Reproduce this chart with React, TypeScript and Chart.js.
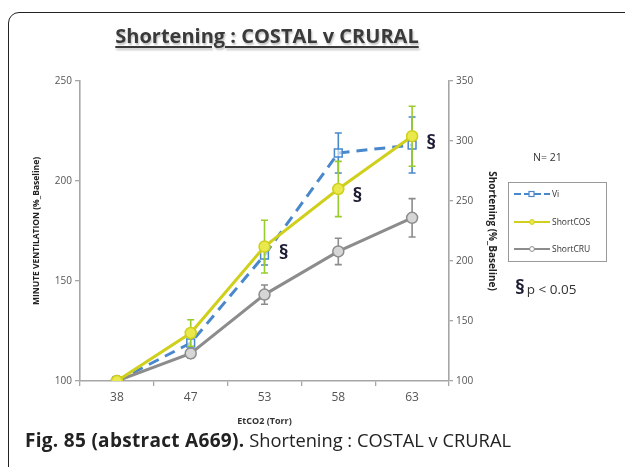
import React, { useEffect, useRef } from 'react';
import { Chart, registerables } from 'chart.js';

Chart.register(...registerables);

// ---- data ----
const categories = ['38', '47', '53', '58', '63'];
const viValues = [100, 119, 163, 214, 218];
const viErrors = [0, 4, 5, 10, 14];
const cosValues = [100, 140, 212, 260, 304];
const cosErrors = [0, 11, 22, 23, 25];
const cruValues = [100, 123, 172, 208, 236];
const cruErrors = [0, 4, 8, 11, 16];
const leftRange = [100, 250];
const rightRange = [100, 350];
const tickStep = 50;
const sigIndices = [2, 3, 4];

const BLUE = '#4a88cc';
const YELLOW = '#cfcf1c';
const YELLOW_FILL = '#e9e94c';
const GREEN = '#98cc2c';
const GRAY = '#8c8c8c';
const GRAY_FILL = '#d6d6d6';
const AXIS = '#a6a6a6';
const FONT = '"Open Sans", "DejaVu Sans", sans-serif';

const errorBarPlugin = {
  id: 'errorBars',
  beforeDatasetDraw(chart: any, args: any) {
    const ds = chart.data.datasets[args.index];
    const errs: number[] = ds.errors;
    if (!errs) return;
    const meta = args.meta;
    const yScale = chart.scales[meta.yAxisID];
    const ctx = chart.ctx;
    ctx.save();
    ctx.strokeStyle = ds.errorColor;
    ctx.lineWidth = 1.6;
    meta.data.forEach((pt: any, i: number) => {
      const e = errs[i];
      if (!e) return;
      const v = ds.data[i];
      const yTop = yScale.getPixelForValue(v + e);
      const yBot = yScale.getPixelForValue(v - e);
      const x = pt.x;
      ctx.beginPath();
      ctx.moveTo(x, yTop);
      ctx.lineTo(x, yBot);
      ctx.moveTo(x - 3.5, yTop);
      ctx.lineTo(x + 3.5, yTop);
      ctx.moveTo(x - 3.5, yBot);
      ctx.lineTo(x + 3.5, yBot);
      ctx.stroke();
    });
    ctx.restore();
  },
};

const sigPlugin = {
  id: 'sigMarks',
  afterDatasetsDraw(chart: any) {
    const idx = chart.data.datasets.findIndex((d: any) => d.label === 'ShortCOS');
    if (idx < 0) return;
    const meta = chart.getDatasetMeta(idx);
    const ctx = chart.ctx;
    ctx.save();
    ctx.fillStyle = '#1c1c34';
    ctx.font = `bold 20px ${FONT}`;
    ctx.textAlign = 'center';
    ctx.textBaseline = 'middle';
    sigIndices.forEach((i) => {
      const pt = meta.data[i];
      if (!pt) return;
      ctx.fillText('§', pt.x + 19, pt.y + 7);
    });
    ctx.restore();
  },
};

function LegendSample({ color, dashed, marker }: { color: string; dashed?: boolean; marker: 'square' | 'circleY' | 'circleG' }) {
  return (
    <svg width={38} height={8} style={{ display: 'block' }}>
      <line x1={1} y1={4} x2={37} y2={4} stroke={color} strokeWidth={2.2} strokeDasharray={dashed ? '7 3' : undefined} />
      {marker === 'square' && <rect x={16} y={1.5} width={5} height={5} fill="#fff" stroke={color} strokeWidth={1.2} />}
      {marker === 'circleY' && <circle cx={19} cy={4} r={2.4} fill={YELLOW_FILL} stroke={YELLOW} strokeWidth={1} />}
      {marker === 'circleG' && <circle cx={19} cy={4} r={2.4} fill="#fff" stroke={GRAY} strokeWidth={1} />}
    </svg>
  );
}

export default function App() {
  const canvasRef = useRef<HTMLCanvasElement | null>(null);

  useEffect(() => {
    if (!canvasRef.current) return;
    const chart = new Chart(canvasRef.current, {
      type: 'line',
      data: {
        labels: categories,
        datasets: [
          {
            label: 'Vi',
            data: viValues,
            yAxisID: 'y',
            borderColor: BLUE,
            borderWidth: 3,
            borderDash: [11, 7],
            pointStyle: 'rect',
            pointRadius: 5.5,
            pointBackgroundColor: 'rgba(255,255,255,0.6)',
            pointBorderColor: BLUE,
            pointBorderWidth: 1.5,
            order: 3,
            errors: viErrors,
            errorColor: BLUE,
          } as any,
          {
            label: 'ShortCOS',
            data: cosValues,
            yAxisID: 'y1',
            borderColor: YELLOW,
            borderWidth: 3,
            pointStyle: 'circle',
            pointRadius: 5.5,
            pointBackgroundColor: YELLOW_FILL,
            pointBorderColor: YELLOW,
            pointBorderWidth: 1.5,
            order: 1,
            errors: cosErrors,
            errorColor: GREEN,
          } as any,
          {
            label: 'ShortCRU',
            data: cruValues,
            yAxisID: 'y1',
            borderColor: GRAY,
            borderWidth: 3,
            pointStyle: 'circle',
            pointRadius: 5.5,
            pointBackgroundColor: GRAY_FILL,
            pointBorderColor: GRAY,
            pointBorderWidth: 1.5,
            order: 2,
            errors: cruErrors,
            errorColor: GRAY,
          } as any,
        ],
      },
      options: {
        animation: false,
        responsive: false,
        devicePixelRatio: 1,
        layout: { padding: { left: 31.6, right: 127, top: 81, bottom: 40.6 } },
        plugins: {
          legend: { display: false },
          tooltip: { enabled: false },
          title: { display: false },
        },
        scales: {
          x: {
            type: 'category',
            offset: true,
            grid: {
              display: true,
              offset: true,
              drawOnChartArea: false,
              drawTicks: true,
              tickLength: 5,
              color: AXIS,
              lineWidth: 1.3,
            },
            border: { display: true, color: AXIS, width: 1.6 },
            ticks: { color: '#555', font: { family: FONT, size: 12 }, padding: 4, maxRotation: 0 },
            title: {
              display: true,
              text: 'EtCO2 (Torr)',
              color: '#333',
              font: { family: FONT, size: 9, weight: 'bold' },
              padding: { top: 0, bottom: 0 },
            },
            afterFit: (s: any) => {
              s.height = 45.4;
            },
          },
          y: {
            type: 'linear',
            position: 'left',
            min: leftRange[0],
            max: leftRange[1],
            ticks: { stepSize: tickStep, color: '#555', font: { family: FONT, size: 10 }, padding: 3 },
            grid: {
              display: true,
              drawOnChartArea: false,
              drawTicks: true,
              tickLength: 5,
              color: AXIS,
              lineWidth: 1.3,
            },
            border: { display: true, color: AXIS, width: 1.6 },
            title: {
              display: true,
              text: 'MINUTE VENTILATION (%_Baseline)',
              color: '#222',
              font: { family: FONT, size: 8.5, weight: 'bold' },
              padding: { top: 0, bottom: 0 },
            },
            afterFit: (s: any) => {
              s.width = 48.4;
            },
          },
          y1: {
            type: 'linear',
            position: 'right',
            min: rightRange[0],
            max: rightRange[1],
            ticks: { stepSize: tickStep, color: '#555', font: { family: FONT, size: 10 }, padding: 3 },
            grid: {
              display: true,
              drawOnChartArea: false,
              drawTicks: true,
              tickLength: 4,
              color: AXIS,
              lineWidth: 1.3,
            },
            border: { display: true, color: AXIS, width: 1.6 },
            title: {
              display: true,
              text: 'Shortening (%_Baseline)',
              color: '#222',
              font: { family: FONT, size: 10, weight: 'bold' },
              padding: { top: 0, bottom: 0 },
            },
            afterFit: (s: any) => {
              s.width = 49;
            },
          },
        },
      } as any,
      plugins: [errorBarPlugin, sigPlugin],
    });
    return () => chart.destroy();
  }, []);

  const legendRow = (label: string, sample: React.ReactNode, top: number) => (
    <div style={{ position: 'absolute', left: 4, top, display: 'flex', alignItems: 'center', height: 10 }}>
      {sample}
      <span style={{ fontFamily: FONT, fontSize: 8.5, color: '#333', marginLeft: 1, lineHeight: '10px' }}>{label}</span>
    </div>
  );

  return (
    <div style={{ position: 'absolute', left: 0, top: 0, width: 625, height: 467, overflow: 'hidden', background: '#fff' }}>
      <div
        style={{
          position: 'absolute',
          left: 8,
          top: 12,
          width: 720,
          height: 540,
          border: '1.6px solid #222',
          borderRadius: 11,
          boxSizing: 'border-box',
        }}
      />
      <canvas ref={canvasRef} width={625} height={467} style={{ position: 'absolute', left: 0, top: 0, width: 625, height: 467 }} />
      <div
        style={{
          position: 'absolute',
          left: 67,
          top: 22,
          width: 400,
          textAlign: 'center',
          fontFamily: FONT,
          fontWeight: 700,
          fontSize: 20,
          lineHeight: '28px',
          color: '#3a3a3a',
          textDecoration: 'underline',
          textDecorationThickness: '2px',
          textUnderlineOffset: '3px',
          textShadow: '1px 2px 2px rgba(0,0,0,0.25)',
        }}
      >
        Shortening : COSTAL v CRURAL
      </div>
      <div style={{ position: 'absolute', left: 533, top: 149, fontFamily: FONT, fontSize: 10.5, color: '#333', lineHeight: '16px' }}>
        N= 21
      </div>
      <div
        style={{
          position: 'absolute',
          left: 508,
          top: 182,
          width: 99,
          height: 80,
          border: '1px solid #999',
          boxSizing: 'border-box',
        }}
      >
        {legendRow('Vi', <LegendSample color={BLUE} dashed marker="square" />, 6)}
        {legendRow('ShortCOS', <LegendSample color={YELLOW} marker="circleY" />, 34)}
        {legendRow('ShortCRU', <LegendSample color={GRAY} marker="circleG" />, 61)}
      </div>
      <div style={{ position: 'absolute', left: 515, top: 275, fontFamily: FONT, color: '#333', lineHeight: '24px', whiteSpace: 'nowrap' }}>
        <span style={{ fontSize: 20, fontWeight: 700, color: '#1c1c34' }}>§</span>
        <span style={{ fontSize: 13.5, marginLeft: 2 }}>p &lt; 0.05</span>
      </div>
      <div
        style={{
          position: 'absolute',
          left: 25,
          top: 427,
          fontFamily: FONT,
          fontSize: 19,
          lineHeight: '26px',
          color: '#222',
          whiteSpace: 'nowrap',
        }}
      >
        <span style={{ fontWeight: 700, letterSpacing: '0.3px' }}>Fig. 85 (abstract A669).</span>
        <span style={{ fontSize: 18.3 }}> Shortening : COSTAL v CRURAL</span>
      </div>
    </div>
  );
}
